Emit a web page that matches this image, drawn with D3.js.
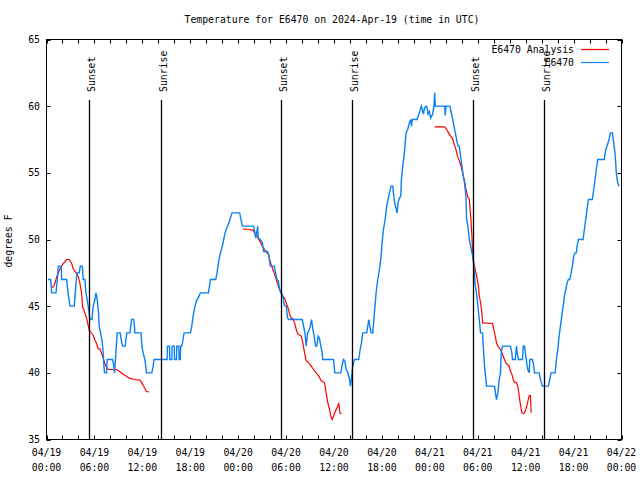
<!DOCTYPE html>
<html><head><meta charset="utf-8">
<script src="https://cdn.jsdelivr.net/npm/d3@7"></script>
<style>body{margin:0;background:#fff}svg{display:block}text{font-family:"DejaVu Sans Mono",monospace;font-size:9.8px;fill:#000}</style>
</head><body><svg id="c" width="640" height="480"></svg>
<script>
// hours since 2024-04-19 00:00 UTC
const blueHours=[0.19,0.52,0.65,1.19,1.35,1.48,1.85,1.9,2.52,2.69,2.94,3.48,3.6,3.73,3.85,4.1,4.23,4.48,4.6,4.81,4.94,5.1,5.31,5.44,5.69,5.85,6.06,6.19,6.35,6.52,6.6,6.77,6.94,7.1,7.19,7.27,7.52,7.6,8.27,8.44,8.52,8.69,8.85,9.23,9.35,9.52,9.85,9.94,10.06,10.44,10.56,10.65,10.9,11.02,11.06,11.85,11.94,12.1,12.31,12.44,12.52,13.19,13.35,13.48,15.1,15.15,15.4,15.44,15.7,15.73,16.0,16.03,16.28,16.31,16.57,16.6,16.75,16.8,16.94,17.1,17.23,18.02,18.19,18.36,18.6,18.77,19.1,19.27,20.27,20.44,20.52,21.19,21.35,21.6,21.77,22.02,22.19,22.35,22.6,22.85,23.02,23.23,24.19,24.44,24.52,25.94,26.1,26.19,26.35,26.44,26.52,26.77,27.02,27.19,27.69,27.85,28.02,28.52,28.69,28.85,29.02,29.19,29.35,29.6,29.77,30.02,30.19,30.35,32.02,32.19,32.35,32.52,32.69,32.94,33.19,33.35,33.52,33.69,33.85,34.02,34.19,34.27,34.52,34.6,35.94,36.1,36.85,37.02,37.19,37.35,37.52,37.69,37.94,38.06,38.19,38.35,38.56,39.1,39.27,39.44,39.6,40.1,40.36,40.52,40.65,40.86,41.06,41.27,41.48,41.69,41.9,42.02,42.19,42.4,42.6,42.77,42.94,43.15,43.36,43.44,43.6,43.9,44.02,44.19,44.36,44.44,44.61,44.81,45.02,45.23,45.44,45.61,45.7,45.8,46.06,46.4,46.69,46.94,47.19,47.35,47.6,47.77,47.94,48.1,48.35,48.52,48.6,48.69,49.86,49.94,50.02,50.52,50.69,50.86,51.02,51.19,51.35,51.52,51.69,51.8,52.02,52.19,52.35,52.52,52.6,52.77,52.94,53.19,53.36,53.52,53.69,53.85,54.02,54.19,54.35,54.6,54.69,54.85,55.1,56.1,56.27,56.35,56.52,56.69,56.85,56.94,57.1,58.1,58.27,58.35,58.69,58.85,58.94,59.1,59.6,59.69,59.85,60.02,60.19,60.27,60.44,60.52,60.85,61.02,61.1,61.69,61.85,62.1,62.85,63.02,63.19,63.69,63.85,64.02,64.19,64.35,64.52,64.69,64.85,65.02,65.19,65.35,65.52,65.69,65.85,66.02,66.19,66.35,66.44,66.6,67.19,67.35,67.52,67.69,67.85,68.35,68.52,68.69,68.85,69.02,69.85,70.02,70.19,70.44,70.6,70.85,71.02,71.19,71.35,71.52,71.69];
const blueTemps=[47,47,46,46,47,48,48,47,47,46,45,45,46,47,47.5,47.5,48,48,47,47,46,45.5,44.6,44,44,45,45.5,46,45.5,44.5,43.5,43,42.5,41.5,40.5,40,40,41,41,40.5,40,41.5,43,43,42.5,42,42,42.5,43,43,43.5,44,44,43.5,43,43,42,41.5,41,40.5,40,40,40.5,41,41,42,42,41,41,42,42,41,41,42,42,41,41,42,42,42.5,43,43,43.5,44.25,45,45.4,45.75,46,46,46.6,47,47,47.5,48.5,49,49.5,50,50.5,50.9,51.25,51.6,52,52,51.25,51,51,50.5,50.1,50.6,51,50.1,50,49.75,49.1,49.1,48.75,48,48,47.5,47,46.9,46.25,46,45.75,45.1,45,44.1,44,44,43.5,43,42,43,43.25,44,43.25,42.75,42,42,42.75,42.6,42.25,41.5,41,41,40,40,40.6,41,40.9,40.25,40.1,39.5,39,39.6,40.5,41,41,41.75,42.25,43,43,44,43.4,43,43,44.5,46,47,47.75,48.75,49.75,50.75,51.5,52.5,53,53.5,54,54,53.5,52.75,52,52.75,53.1,53.25,54.5,55.5,56.5,58,58.25,58.75,59,58.5,59,59,59,59.5,60,59.4,59.9,60,59.4,59.6,59.1,59.4,60,61,60,60,59.3,60,60,59.5,59,58.5,58,57.5,57,57,56.5,55.5,54.75,54.25,53.25,51.5,51,50,49.25,48.75,48,46.5,46,45,44,43,43,42,40.5,39,39,38.25,38,38.5,39.5,40,41.5,42,42,41.5,41,41,42,41.5,41,41,42,42,41.25,40.5,40.25,40,41,41,40.5,40,40,39.5,39,39,39.5,40,40,41,41.75,42.75,43.5,44.25,45,45.75,46.25,46.75,47,47,47.5,48,48.75,49,49,49.5,50,50,50.75,51.5,52.25,53,53,53.75,54.5,55.25,56,56,56.75,57,57.5,58,58,57.25,56.5,55,54.25,54];
// null separates the three analysis runs
const redHours=[0.65,0.85,1.06,1.27,1.69,2.1,2.52,2.85,3.15,3.35,3.56,3.77,3.98,4.19,4.4,4.52,4.69,5.02,5.35,5.52,5.85,6.06,6.27,6.48,6.69,6.9,7.1,7.31,7.52,7.73,8.77,9.19,9.6,10.02,10.44,11.06,11.69,12.1,12.52,12.85,null,24.6,25.23,25.85,26.06,26.35,26.69,27.02,27.31,27.6,27.81,27.94,28.15,28.35,28.56,28.77,28.98,29.19,29.4,29.6,29.81,30.02,30.23,30.44,30.65,30.85,31.06,31.27,31.48,31.9,32.1,32.31,32.52,32.85,33.15,33.44,33.77,34.1,34.4,34.81,35.02,35.23,35.44,35.6,35.77,35.94,36.1,36.27,36.48,36.6,36.69,36.77,36.94,null,48.6,49.86,50.1,50.35,50.6,50.86,51.06,51.27,51.48,51.69,51.9,52.1,52.31,52.52,52.73,52.94,53.15,53.27,53.36,53.44,53.6,53.77,53.94,54.1,54.19,54.36,54.52,54.6,55.86,56.02,56.19,56.35,56.52,56.69,57.02,57.19,57.35,57.52,57.73,57.94,58.1,58.27,58.44,58.6,58.85,59.02,59.19,59.35,59.52,59.8,60.02,60.23,60.44,60.6,60.69];
const redTemps=[46.4,46.45,46.7,47.2,47.8,48.2,48.5,48.5,48.2,47.8,47.6,47.45,47.2,46.7,45.95,44.95,44.7,44.1,43.2,43.08,42.8,42.45,42.2,41.8,41.8,41.45,41.1,40.7,40.4,40.25,40.25,40.08,39.9,39.75,39.58,39.5,39.45,39.08,38.58,38.58,null,50.8,50.75,50.7,50.5,50.25,49.9,49.5,49.25,49,48.9,48.5,48.1,47.75,47.4,47,46.6,46.25,46,45.75,45.6,45.25,44.9,44.4,44.1,44.05,43.75,43.25,42.9,42.75,42.25,41.5,40.9,40.75,40.5,40.25,40,39.75,39.4,39.25,38.5,37.75,37.25,36.75,36.5,36.75,37,37.25,37.5,37.75,37.25,36.95,36.95,null,58.45,58.45,58.25,58,57.75,57.55,57.1,56.75,56.25,55.9,55.5,55,54.5,53.75,53.25,53,51.5,50.25,49,48.5,48,47.5,47,46.5,45.75,45.25,44.5,43.75,43.7,43.25,42.75,42.25,42,41.9,41.5,41.25,41,40.75,40.6,40.5,40.1,39.9,39.5,39.3,39.25,39,38.25,37.6,37,36.95,37.25,37.75,38.3,38.3,37];
const sunsetHours=[5.37,29.40,53.43];
const sunriseHours=[14.35,38.36,62.31];
const xTickHours=[0,6,12,18,24,30,36,42,48,54,60,66,72];
const xTickDates=["04/19","04/19","04/19","04/19","04/20","04/20","04/20","04/20","04/21","04/21","04/21","04/21","04/22"];
const xTickTimes=["00:00","06:00","12:00","18:00","00:00","06:00","12:00","18:00","00:00","06:00","12:00","18:00","00:00"];
const yTicks=[35,40,45,50,55,60,65];
const seriesNames=["E6470 Analysis","E6470"];
const seriesColors=["#ff0000","#0a80f5"];

const svg=d3.select("#c");
const L=46.5,R=621.5,T=39.5,B=439.5;
const x=d3.scaleLinear().domain([0,72]).range([L,R]);
const y=d3.scaleLinear().domain([35,65]).range([B,T]);

svg.append("rect").attr("width",640).attr("height",480).attr("fill","#fff");

// title
svg.append("text").attr("x",332).attr("y",23).attr("text-anchor","middle")
  .text("Temperature for E6470 on 2024-Apr-19 (time in UTC)");
// y label
svg.append("text").attr("transform","translate(12,241) rotate(-90)").attr("text-anchor","middle").text("degrees F");

// ticks
const g=svg.append("g").attr("stroke","#000").attr("stroke-width",1);
d3.range(0,73,2).forEach(h=>{
  const xx=Math.round(x(h))+0.5;
  g.append("line").attr("x1",xx).attr("x2",xx).attr("y1",B).attr("y2",B-4);
  g.append("line").attr("x1",xx).attr("x2",xx).attr("y1",T).attr("y2",T+4);
});
yTicks.forEach(v=>{
  const yy=Math.round(y(v))+0.5;
  g.append("line").attr("x1",L).attr("x2",L+4).attr("y1",yy).attr("y2",yy);
  g.append("line").attr("x1",R).attr("x2",R-4).attr("y1",yy).attr("y2",yy);
  svg.append("text").attr("x",40).attr("y",y(v)).attr("dy","0.35em").attr("text-anchor","end").text(v);
});
xTickHours.forEach((h,i)=>{
  svg.append("text").attr("x",x(h)).attr("y",456).attr("text-anchor","middle").text(xTickDates[i]);
  svg.append("text").attr("x",x(h)).attr("y",471).attr("text-anchor","middle").text(xTickTimes[i]);
});

// data lines
const line=d3.line().defined(d=>d[0]!==null&&d[1]!==null).x(d=>x(d[0])).y(d=>y(d[1]));
const redData=redHours.map((h,i)=>[h,redTemps[i]]);
const blueData=blueHours.map((h,i)=>[h,blueTemps[i]]);
svg.append("path").datum(redData).attr("d",line).attr("fill","none").attr("stroke",seriesColors[0]).attr("stroke-width",1.2);
svg.append("path").datum(blueData).attr("d",line).attr("fill","none").attr("stroke",seriesColors[1]).attr("stroke-width",1.4);

// sunset / sunrise lines
function sunLine(h,label){
  const xx=Math.floor(x(h))+0.5;
  svg.append("line").attr("x1",xx).attr("x2",xx).attr("y1",100).attr("y2",B).attr("stroke","#000").attr("stroke-width",1.3);
  svg.append("text").attr("transform",`translate(${xx+5},92) rotate(-90)`).attr("text-anchor","start").text(label);
}
sunsetHours.forEach(h=>sunLine(h,"Sunset"));
sunriseHours.forEach(h=>sunLine(h,"Sunrise"));

// frame
svg.append("rect").attr("x",L).attr("y",T).attr("width",R-L).attr("height",B-T).attr("fill","none").attr("stroke","#000").attr("stroke-width",1);

// legend
seriesNames.forEach((n,i)=>{
  const ly=50+i*13;
  svg.append("text").attr("x",574).attr("y",ly).attr("dy","0.35em").attr("text-anchor","end").text(n);
  svg.append("line").attr("x1",581).attr("x2",609).attr("y1",ly-0.5).attr("y2",ly-0.5).attr("stroke",seriesColors[i]).attr("stroke-width",1.2);
});
</script></body></html>
